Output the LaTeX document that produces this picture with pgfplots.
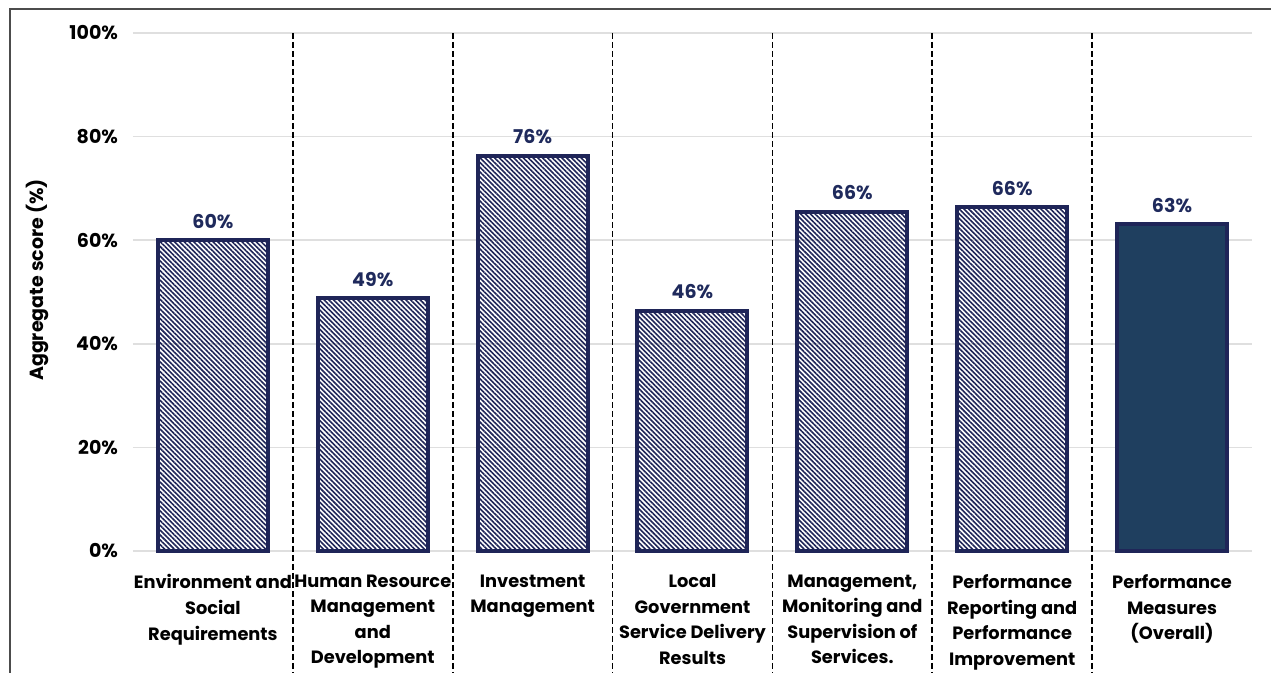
\documentclass[border=0pt]{standalone}
\usepackage{pgfplots}
\pgfplotsset{compat=1.18}
\usetikzlibrary{patterns.meta}
\usepackage{fontspec}
\setmainfont{Poppins}
\definecolor{navy}{HTML}{1F2558}
\definecolor{solidbar}{HTML}{1F3F5F}
\definecolor{lbl}{HTML}{1F2A5C}
\begin{document}
\begin{tikzpicture}[x=1pt,y=1pt]
\useasboundingbox (0,0) rectangle (635.5,336.5);
\draw[gray!60!black, line width=0.9pt] (5,-5) -- (5,332) -- (645,332);
\begin{axis}[
  at={(66.5pt,61pt)}, anchor=south west,
  scale only axis, width=559.5pt, height=259pt,
  xmin=-0.5, xmax=6.5, ymin=0, ymax=100,
  clip=false,
  /pgf/number format/assume math mode=true,
  axis line style={draw=none},
  major tick style={draw=none},
  ymajorgrids, grid style={gray!25, line width=0.8pt},
  ytick={0,20,40,60,80,100},
  yticklabels={0\%,20\%,40\%,60\%,80\%,100\%},
  yticklabel style={font=\fontsize{9.5}{11}\selectfont\bfseries, xshift=-4pt},
  xtick={0,1,2,3,4,5,6},
  xticklabels={
    {Environment and\\Social\\Requirements},
    {Human Resource\\Management\\and\\Development},
    {Investment\\Management},
    {Local\\Government\\Service Delivery\\Results},
    {Management,\\Monitoring and\\Supervision of\\Services.},
    {Performance\\Reporting and\\Performance\\Improvement},
    {Performance\\Measures\\(Overall)}},
  xticklabel style={font=\fontsize{8.9}{12.8}\selectfont\bfseries, align=center, anchor=north, yshift=-4pt},
  ylabel={Aggregate score (\%)},
  ylabel style={at={(axis description cs:-0.0858,0.523)}, anchor=center, font=\fontsize{9.5}{11}\selectfont\bfseries},
  ybar, bar width=55pt,
  nodes near coords={\pgfmathprintnumber[fixed,precision=0,assume math mode=true]{\pgfplotspointmeta}\%},
  every node near coord/.append style={font=\fontsize{9.5}{11}\selectfont\bfseries, text=lbl, anchor=base, yshift=6pt},
]
\addplot[bar shift=0pt, draw=navy, line width=2pt, pattern={Lines[angle=-45,distance=1.7pt,line width=0.8pt]}, pattern color=navy]
  coordinates {(0,60.0) (1,48.8) (2,76.3) (3,46.4) (4,65.5) (5,66.4)};
\addplot[bar shift=0pt, draw=navy, line width=2pt, fill=solidbar]
  coordinates {(6,63.1)};
\pgfplotsinvokeforeach{0.5,1.5,2.5,3.5,4.5,5.5}{
  \draw[black, line width=0.8pt, dash pattern=on 3pt off 1.5pt] (axis cs:#1,100) -- (axis cs:#1,-30);
}
\end{axis}
\end{tikzpicture}
\end{document}
